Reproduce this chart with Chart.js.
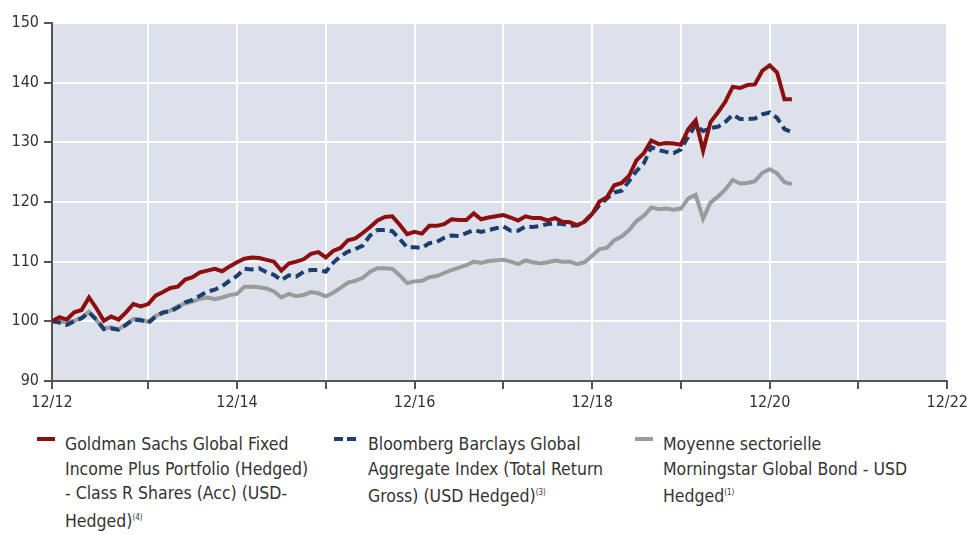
<!DOCTYPE html>
<html lang="fr">
<head>
    <meta charset="UTF-8">
    <title>Performance</title>
    <script src="https://cdn.jsdelivr.net/npm/chart.js"></script>
    <style>
        body {
            margin: 0;
            background: #fff;
            overflow: hidden;
            font-family: "Liberation Sans Narrow", "DejaVu Sans Condensed", sans-serif;
            color: #333;
        }
        #wrap {
            position: relative;
            width: 967px;
            height: 535px;
            overflow: hidden;
        }
        #box {
            position: absolute;
            left: 0;
            top: 0;
            width: 972px;
            height: 420px;
        }
        .leg {
            position: absolute;
            top: 432px;
            font-size: 17.5px;
            line-height: 24.5px;
        }
        .leg sup { font-size: 8px; vertical-align: 7px; }
        .mark {
            position: absolute;
            top: 437px;
            height: 4px;
        }
    </style>
</head>
<body>
<div id="wrap">
    <div id="box"><canvas id="perfChart"></canvas></div>

    <div class="mark" style="left:37px;width:18px;background:#8b0f0f;"></div>
    <div class="leg" style="left:65px;width:270px;">Goldman Sachs Global Fixed<br>Income Plus Portfolio (Hedged)<br>- Class R Shares (Acc) (USD-<br>Hedged)<sup>(4)</sup></div>

    <div class="mark" style="left:334px;width:9px;background:#1c3d6e;"></div>
    <div class="mark" style="left:347px;width:9px;background:#1c3d6e;"></div>
    <div class="leg" style="left:368px;width:270px;">Bloomberg Barclays Global<br>Aggregate Index (Total Return<br>Gross) (USD Hedged)<sup>(3)</sup></div>

    <div class="mark" style="left:635px;width:18px;background:#9b9b9b;"></div>
    <div class="leg" style="left:663px;width:290px;">Moyenne sectorielle<br>Morningstar Global Bond - USD<br>Hedged<sup>(1)</sup></div>
</div>

<script>
    // monthly values, first point at the left edge of the axis (just before 12/12)
    const goldman = [
        100.0, 100.7, 100.3, 101.5, 101.9, 104.0, 102.2, 100.1, 100.8, 100.3,
        101.5, 102.9, 102.5, 102.9, 104.3, 104.9, 105.6, 105.8, 107.0, 107.4,
        108.2, 108.5, 108.8, 108.4, 109.2, 109.9, 110.5, 110.7, 110.6, 110.3,
        110.0, 108.5, 109.7, 110.0, 110.4, 111.3, 111.6, 110.7, 111.8, 112.3,
        113.6, 113.9, 114.8, 115.8, 116.9, 117.5, 117.6, 116.2, 114.6, 115.0,
        114.7, 116.0, 116.0, 116.3, 117.1, 117.0, 117.0, 118.1, 117.1, 117.4,
        117.6, 117.8, 117.4, 116.9, 117.6, 117.3, 117.3, 116.9, 117.3, 116.7,
        116.6, 116.1, 116.7, 118.0, 120.1, 120.8, 122.8, 123.2, 124.4, 127.0,
        128.2, 130.3, 129.7, 129.9, 129.8, 129.6, 132.2, 133.7, 128.6, 133.4,
        135.0, 136.8, 139.3, 139.1, 139.6, 139.7, 142.0, 142.9, 141.7, 137.2,
        137.2
    ];
    const bloomberg = [
        100.0, 99.8, 99.4, 100.0, 100.5, 101.5, 100.3, 98.7, 98.8, 98.6,
        99.4, 100.3, 100.2, 99.7, 100.8, 101.5, 101.7, 102.3, 103.2, 103.6,
        104.3, 105.0, 105.3, 105.9, 106.8, 107.6, 108.8, 108.7, 108.9, 108.2,
        107.8, 106.9, 107.7, 107.5, 108.3, 108.6, 108.6, 108.3, 109.8, 110.9,
        111.7, 112.1, 112.7, 114.4, 115.3, 115.3, 115.1, 113.8, 112.4, 112.4,
        112.3, 113.1, 113.3, 114.0, 114.4, 114.3, 114.8, 115.3, 115.0, 115.3,
        115.6, 115.9, 115.2, 115.2, 115.9, 115.8, 116.0, 116.3, 116.4, 116.3,
        116.0, 116.1, 116.8, 118.0, 119.5, 120.6, 121.6, 121.9, 123.5, 125.2,
        126.5, 129.2, 128.7, 128.4, 128.2, 128.8, 131.0, 132.9, 131.9, 132.4,
        132.6, 133.4, 134.6, 133.9, 133.9, 134.0, 134.7, 135.0, 134.1, 132.2,
        131.7
    ];
    const morningstar = [
        100.0, 100.0, 99.8, 100.1, 100.6, 101.6, 100.2, 98.8, 99.0, 98.7,
        99.5, 100.4, 100.3, 99.9, 100.9, 101.4, 101.8, 102.5, 103.0, 103.3,
        103.8, 104.0, 103.7, 104.0, 104.4, 104.6, 105.8, 105.8, 105.7, 105.5,
        105.0, 104.0, 104.6, 104.2, 104.4, 104.9, 104.7, 104.2, 104.8, 105.6,
        106.5, 106.8, 107.3, 108.3, 108.9, 108.9, 108.8, 107.7, 106.4, 106.7,
        106.8, 107.4, 107.6, 108.1, 108.6, 109.0, 109.4, 110.0, 109.8, 110.1,
        110.2, 110.3, 110.0, 109.6, 110.2, 109.9, 109.7, 109.9, 110.2, 110.0,
        110.0, 109.6, 109.9, 111.0, 112.1, 112.3, 113.6, 114.2, 115.3, 116.8,
        117.7, 119.1, 118.8, 118.9, 118.7, 118.9, 120.6, 121.2, 117.2, 119.9,
        120.9, 122.1, 123.7, 123.1, 123.2, 123.5, 124.9, 125.5, 124.8, 123.3,
        123.0
    ];
    const yearTicks = [-1, 12, 24, 36, 48, 60, 72, 84, 96, 108, 120];
    const yearLabels = ['12/12', '', '12/14', '', '12/16', '', '12/18', '', '12/20', '', '12/22'];

    const toPoints = arr => arr.map((v, i) => ({ x: i - 1, y: v }));
    const tickFont = { family: '"Liberation Sans Narrow", "DejaVu Sans Condensed", sans-serif', size: 16 };

    // light blue-grey plot background
    const plotBg = {
        id: 'plotBg',
        beforeDraw(chart) {
            const a = chart.chartArea;
            const ctx = chart.ctx;
            ctx.save();
            ctx.fillStyle = '#dce1eb';
            ctx.fillRect(a.left, a.top, a.right - a.left, a.bottom - a.top);
            ctx.restore();
        }
    };

    new Chart(document.getElementById('perfChart'), {
        type: 'line',
        data: {
            datasets: [{
                label: 'Goldman Sachs',
                data: toPoints(goldman),
                borderColor: '#8b0f0f',
                borderWidth: 4,
                order: 1
            }, {
                label: 'Bloomberg Barclays',
                data: toPoints(bloomberg),
                borderColor: '#1c3d6e',
                borderWidth: 4,
                borderDash: [9, 5],
                order: 2
            }, {
                label: 'Morningstar',
                data: toPoints(morningstar),
                borderColor: '#9b9b9b',
                borderWidth: 4,
                order: 3
            }]
        },
        options: {
            responsive: true,
            maintainAspectRatio: false,
            animation: false,
            elements: { point: { radius: 0 }, line: { tension: 0, borderJoinStyle: 'miter' } },
            layout: { padding: { top: 23, right: 16, left: 0, bottom: 0 } },
            plugins: { legend: { display: false }, tooltip: { enabled: false } },
            scales: {
                x: {
                    type: 'linear',
                    min: -1,
                    max: 120,
                    afterBuildTicks: scale => { scale.ticks = yearTicks.map(v => ({ value: v })); },
                    afterFit: scale => { scale.height = 39; },
                    grid: { color: '#ffffff', lineWidth: 2, tickColor: '#555', tickLength: 8 },
                    border: { color: '#555', width: 2 },
                    ticks: {
                        autoSkip: false,
                        maxRotation: 0,
                        padding: 4,
                        color: '#333',
                        font: tickFont,
                        callback: (v, i) => yearLabels[i]
                    }
                },
                y: {
                    min: 90,
                    max: 150,
                    afterFit: scale => { scale.width = 52; },
                    grid: { color: '#ffffff', lineWidth: 2, tickColor: '#555', tickLength: 8 },
                    border: { color: '#555', width: 2 },
                    ticks: { stepSize: 10, padding: 5, color: '#333', font: tickFont }
                }
            }
        },
        plugins: [plotBg]
    });
</script>
</body>
</html>
